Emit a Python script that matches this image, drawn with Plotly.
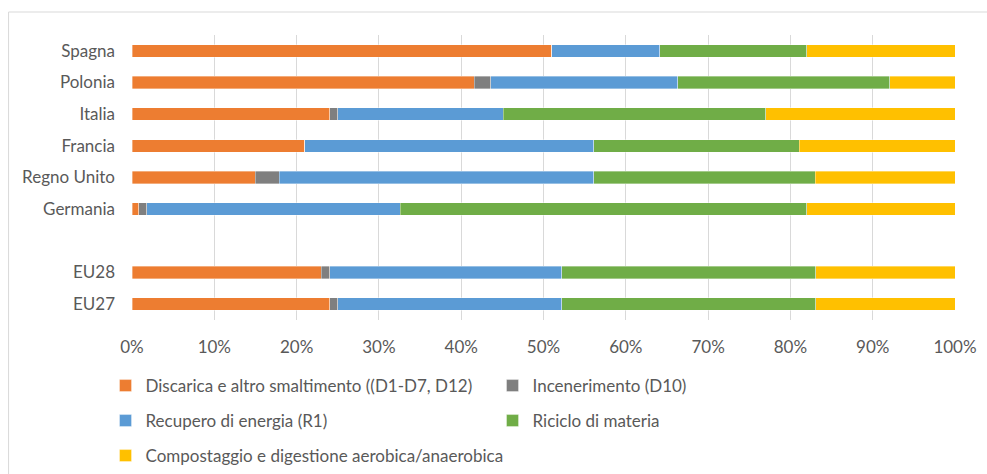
import plotly.graph_objects as go

# ---- data (top-to-bottom order; blank row separates countries from EU aggregates) ----
categories = ["Spagna", "Polonia", "Italia", "Francia", "Regno Unito", "Germania", " ", "EU28", "EU27"]
discarica = [51.0, 41.6, 24.0, 21.0, 15.0, 0.8, None, 23.0, 24.0]
incenerimento = [0.0, 2.0, 1.0, 0.0, 2.9, 1.0, None, 1.0, 1.0]
recupero = [13.1, 22.7, 20.1, 35.1, 38.2, 30.8, None, 28.2, 27.2]
riciclo = [17.9, 25.8, 31.9, 25.0, 26.9, 49.4, None, 30.9, 30.9]
compostaggio = [18.0, 7.9, 23.0, 18.9, 17.0, 18.0, None, 16.9, 16.9]

series_names = [
    "Discarica e altro smaltimento ((D1-D7, D12)",
    "Incenerimento (D10)",
    "Recupero di energia (R1)",
    "Riciclo di materia",
    "Compostaggio e digestione aerobica/anaerobica",
]
series_values = [discarica, incenerimento, recupero, riciclo, compostaggio]
colors = ["#ED7D31", "#7F7F7F", "#5B9BD5", "#70AD47", "#FFC000"]
legend_ids = ["legend", "legend", "legend2", "legend2", "legend3"]
x_ticks = [0, 10, 20, 30, 40, 50, 60, 70, 80, 90, 100]

W, H = 987, 474
ML, MR, MT, MB = 131.5, 32, 35, 154
PW, PH = W - ML - MR, H - MT - MB

def px_x(px):
    return (px - ML) / PW

def px_y(py):
    return (H - MB - py) / PH

FONT = "Lato"
TXT = "#595959"
FS = 17

fig = go.Figure()
for name, vals, col, lg in zip(series_names, series_values, colors, legend_ids):
    fig.add_trace(go.Bar(
        y=categories, x=vals, name=name, orientation="h",
        marker=dict(color=col, line=dict(color="rgba(255,255,255,0.6)", width=0.6)),
        legend=lg,
    ))

legend_common = dict(
    orientation="h", xanchor="left", yanchor="middle", traceorder="normal",
    font=dict(family=FONT, size=FS, color=TXT),
    entrywidthmode="pixels",
    bgcolor="rgba(0,0,0,0)", itemclick=False, itemdoubleclick=False,
)

fig.update_layout(
    width=W, height=H,
    margin=dict(l=ML, r=MR, t=MT, b=MB, pad=0, autoexpand=False),
    paper_bgcolor="white", plot_bgcolor="white",
    barmode="stack", bargap=0.61,
    font=dict(family=FONT, size=FS, color=TXT),
    legend=dict(x=px_x(105), y=px_y(386), entrywidth=342, **legend_common),
    legend2=dict(x=px_x(105), y=px_y(421), entrywidth=342, **legend_common),
    legend3=dict(x=px_x(105), y=px_y(456), entrywidth=600, **legend_common),
    xaxis=dict(
        range=[0, 100], tickvals=x_ticks, ticktext=[f"{v}%" for v in x_ticks],
        showgrid=True, gridcolor="#D9D9D9", gridwidth=1, zeroline=False,
        showline=False, ticks="", ticklabelstandoff=15, automargin=False,
        tickfont=dict(family=FONT, size=FS, color=TXT), fixedrange=True,
    ),
    yaxis=dict(
        categoryorder="array", categoryarray=categories, autorange="reversed",
        showgrid=False, zeroline=False, showline=False, ticks="",
        ticklabelstandoff=16, automargin=False,
        tickfont=dict(family=FONT, size=FS, color=TXT), fixedrange=True,
    ),
    shapes=[dict(
        type="rect", xref="paper", yref="paper",
        x0=px_x(8), x1=px_x(W + 20), y0=px_y(H + 20), y1=px_y(12),
        line=dict(color="#D9D9D9", width=1), fillcolor="rgba(0,0,0,0)", layer="below",
    )],
)

fig.write_html("out.html")
